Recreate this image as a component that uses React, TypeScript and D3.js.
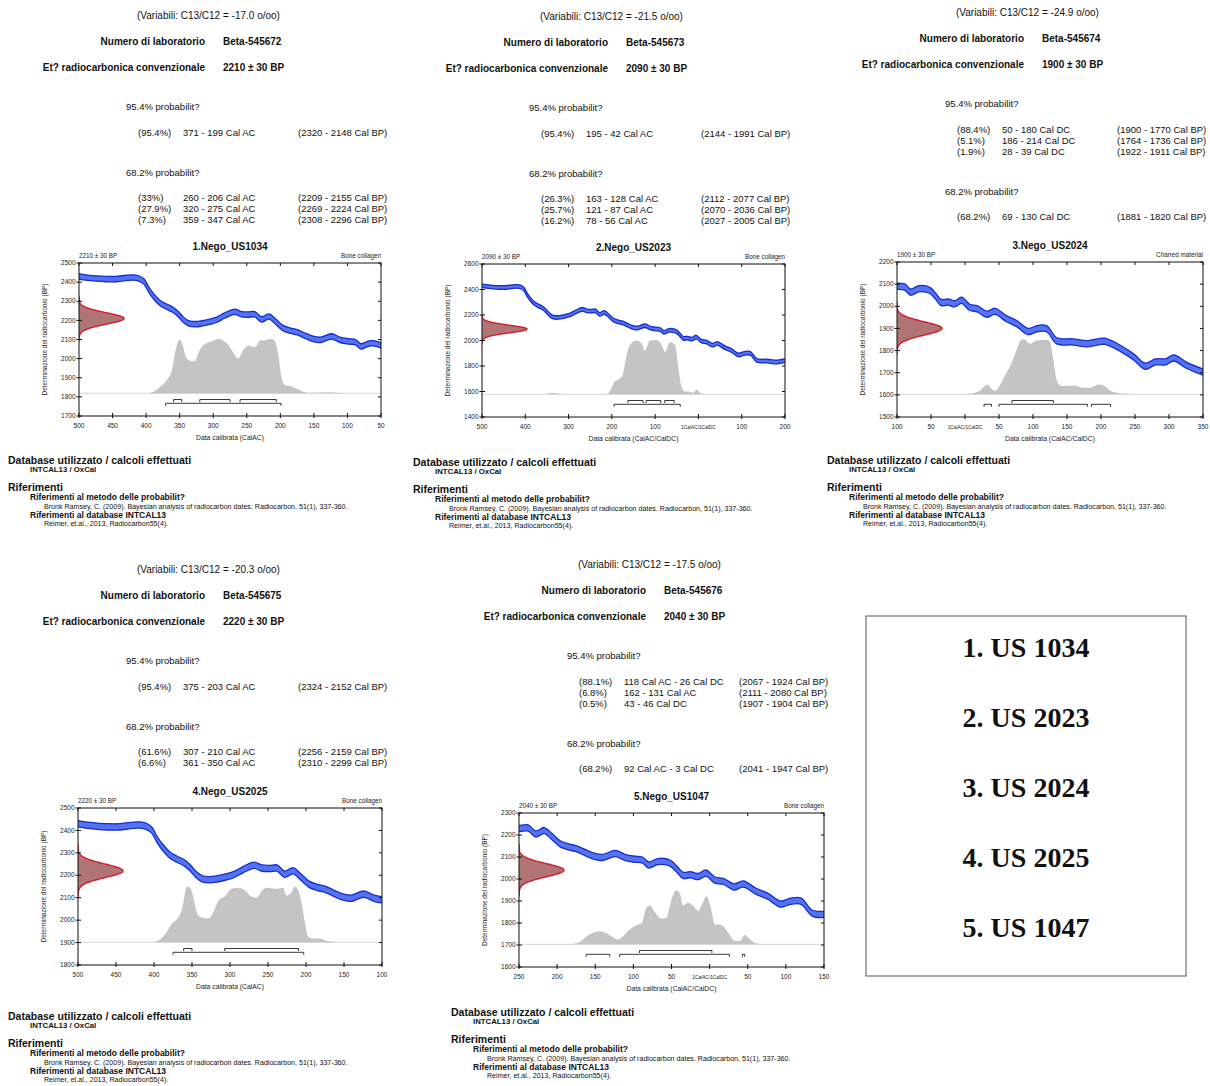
import React from "react";
import * as d3 from "d3";

// ---------- INTCAL13 calibration curve (calendar year, BC negative) ----------
const calYears = [-500,-490,-475,-460,-445,-430,-418,-410,-403,-396,-388,-379,-370,-360,-352,-345,-337,-327,-317,-305,-295,-283,-268,-258,-248,-238,-228,-217,-206,-196,-185,-175,-162,-150,-140,-124,-110,-98,-88,-80,-68,-57,-50,-43,-35,-25,-15,-5,7,18,32,44,61,76,93,106,120,135,159,179,195,206,229,248,265,280,295,307,326,350];
const calBP = [2430,2424,2419,2416,2416,2422,2424,2418,2402,2360,2322,2290,2272,2255,2232,2205,2185,2180,2184,2193,2203,2225,2245,2232,2230,2232,2205,2220,2190,2160,2146,2138,2118,2102,2098,2116,2097,2090,2086,2064,2079,2078,2068,2045,2017,2019,2011,2027,1995,1989,1964,1977,1944,1922,1886,1899,1899,1844,1839,1831,1839,1842,1809,1771,1729,1749,1749,1767,1733,1703];
const CAL_SIGMA = 14;
const MEAS_SIGMA = 30;

// ---------- Sample 1 ----------
const p1Variabili = "(Variabili: C13/C12 = -17.0 o/oo)";
const p1Lab = "Beta-545672";
const p1AgeBP = 2210;
const p1Rows95 = [["(95.4%)", "371 - 199 Cal AC", "(2320 - 2148 Cal BP)"]];
const p1Rows68 = [["(33%)", "260 - 206 Cal AC", "(2209 - 2155 Cal BP)"], ["(27.9%)", "320 - 275 Cal AC", "(2269 - 2224 Cal BP)"], ["(7.3%)", "359 - 347 Cal AC", "(2308 - 2296 Cal BP)"]];
const p1DistYears = [-399,-389,-379,-369,-362,-357,-352,-349,-345,-340,-332,-327,-320,-312,-302,-292,-285,-275,-268,-263,-255,-248,-240,-235,-230,-225,-220,-213,-208,-203,-198,-193,-186,-176,-166,-156,-126,-111,-96];
const p1DistProb = [0,0.03,0.12,0.25,0.40,0.74,0.96,0.98,0.86,0.65,0.59,0.60,0.80,0.91,0.96,1.0,0.97,0.85,0.71,0.64,0.80,0.88,0.85,0.88,0.98,0.97,0.99,1.0,0.96,0.71,0.28,0.15,0.14,0.09,0.03,0.01,0.02,0.005,0];
const p1Range68 = [[-359, -347], [-320, -275], [-260, -206]];
const p1Range95 = [[-371, -199]];

// ---------- Sample 2 ----------
const p2Variabili = "(Variabili: C13/C12 = -21.5 o/oo)";
const p2Lab = "Beta-545673";
const p2AgeBP = 2090;
const p2Rows95 = [["(95.4%)", "195 - 42 Cal AC", "(2144 - 1991 Cal BP)"]];
const p2Rows68 = [["(26.3%)", "163 - 128 Cal AC", "(2112 - 2077 Cal BP)"], ["(25.7%)", "121 - 87 Cal AC", "(2070 - 2036 Cal BP)"], ["(16.2%)", "78 - 56 Cal AC", "(2027 - 2005 Cal BP)"]];
const p2DistYears = [-351,-336,-320,-305,-212,-205,-193,-185,-175,-166,-158,-143,-131,-124,-112,-97,-85,-77,-66,-54,-47,-39,-31,-24,-12,-4,3,19];
const p2DistProb = [0,0.03,0.01,0,0,0.05,0.24,0.27,0.36,0.71,0.91,0.99,0.93,0.80,0.99,1.0,0.91,0.78,0.96,0.91,0.52,0.14,0.05,0.05,0.03,0.09,0.03,0];
const p2Range68 = [[-163, -128], [-121, -87], [-78, -56]];
const p2Range95 = [[-195, -42]];

// ---------- Sample 3 ----------
const p3Variabili = "(Variabili: C13/C12 = -24.9 o/oo)";
const p3Lab = "Beta-545674";
const p3AgeBP = 1900;
const p3Rows95 = [["(88.4%)", "50 - 180 Cal DC", "(1900 - 1770 Cal BP)"], ["(5.1%)", "186 - 214 Cal DC", "(1764 - 1736 Cal BP)"], ["(1.9%)", "28 - 39 Cal DC", "(1922 - 1911 Cal BP)"]];
const p3Rows68 = [["(68.2%)", "69 - 130 Cal DC", "(1881 - 1820 Cal BP)"]];
const p3DistYears = [-8,12,22,33,39,44,51,59,66,73,83,86,96,105,120,125,130,135,142,159,174,184,196,204,213,223,238,248];
const p3DistProb = [0,0.02,0.07,0.18,0.10,0.06,0.16,0.35,0.50,0.71,0.99,1.0,0.92,0.98,0.99,0.95,0.62,0.25,0.15,0.16,0.12,0.12,0.18,0.16,0.07,0.03,0.01,0];
const p3Range68 = [[69, 130]];
const p3Range95 = [[28, 39], [50, 180], [186, 214]];

// ---------- Sample 4 ----------
const p4Variabili = "(Variabili: C13/C12 = -20.3 o/oo)";
const p4Lab = "Beta-545675";
const p4AgeBP = 2220;
const p4Rows95 = [["(95.4%)", "375 - 203 Cal AC", "(2324 - 2152 Cal BP)"]];
const p4Rows68 = [["(61.6%)", "307 - 210 Cal AC", "(2256 - 2159 Cal BP)"], ["(6.6%)", "361 - 350 Cal AC", "(2310 - 2299 Cal BP)"]];
const p4DistYears = [-401,-392,-383,-377,-370,-363,-357,-355,-350,-346,-342,-335,-328,-322,-315,-307,-298,-289,-280,-272,-265,-258,-252,-239,-230,-226,-219,-215,-210,-206,-202,-197,-191,-182,-173,-164,-156];
const p4DistProb = [0,0.05,0.19,0.33,0.41,0.60,0.99,1.0,0.90,0.66,0.49,0.44,0.43,0.54,0.75,0.82,0.96,0.98,0.93,0.82,0.80,0.93,0.98,0.96,0.98,0.84,0.90,1.0,0.93,0.72,0.40,0.10,0.07,0.07,0.03,0.01,0];
const p4Range68 = [[-361, -350], [-307, -210]];
const p4Range95 = [[-375, -203]];

// ---------- Sample 5 ----------
const p5Variabili = "(Variabili: C13/C12 = -17.5 o/oo)";
const p5Lab = "Beta-545676";
const p5AgeBP = 2040;
const p5Rows95 = [["(88.1%)", "118 Cal AC - 26 Cal DC", "(2067 - 1924 Cal BP)"], ["(6.8%)", "162 - 131 Cal AC", "(2111 - 2080 Cal BP)"], ["(0.5%)", "43 - 46 Cal DC", "(1907 - 1904 Cal BP)"]];
const p5Rows68 = [["(68.2%)", "92 Cal AC - 3 Cal DC", "(2041 - 1947 Cal BP)"]];
const p5DistYears = [-183,-170,-161,-153,-144,-135,-126,-120,-113,-105,-96,-89,-83,-78,-72,-63,-57,-50,-44,-39,-35,-28,-22,-15,-9,-4,1,7,13,20,26,33,40,46,53,61,70];
const p5DistProb = [0,0.04,0.15,0.21,0.24,0.20,0.12,0.09,0.15,0.27,0.35,0.39,0.67,0.71,0.59,0.47,0.48,0.82,0.99,0.93,0.71,0.76,0.71,0.61,0.76,0.88,0.70,0.36,0.36,0.30,0.18,0.06,0.06,0.17,0.09,0.02,0];
const p5Range68 = [[-92, 3]];
const p5Range95 = [[-162, -131], [-118, 26], [43, 46]];

// ---------- Chart labels ----------
const chartTitles = ["1.Nego_US1034", "2.Nego_US2023", "3.Nego_US2024", "4.Nego_US2025", "5.Nego_US1047"];
const materials = ["Bone collagen", "Bone collagen", "Charred material", "Bone collagen", "Bone collagen"];
const xAxisTitles = ["Data calibrata (CalAC)", "Data calibrata (CalAC/CalDC)", "Data calibrata (CalAC/CalDC)", "Data calibrata (CalAC)", "Data calibrata (CalAC/CalDC)"];
const xDomains = [[-500, -50], [-500, 200], [-100, 350], [-500, -100], [-250, 150]];
const xTickSteps = [50, 100, 50, 50, 50];
const yDomains = [[1700, 2500], [1400, 2600], [1500, 2200], [1800, 2500], [1600, 2300]];
const yTickSteps = [100, 200, 100, 100, 100];
const legendItems = ["1. US 1034", "2. US 2023", "3. US 2024", "4. US 2025", "5. US 1047"];

// ---------- Layout (positions only) ----------
const layout = [
  { col0: 126, dy: 0, box: [79, 263, 381, 416], foot: [8, 464] },
  { col0: 529, dy: 1, box: [482, 264, 785, 417], foot: [413, 466] },
  { col0: 945, dy: -3, box: [897, 262, 1203, 417], foot: [827, 464] },
  { col0: 126, dy: 554, box: [78, 808, 382, 965], foot: [8, 1020] },
  { col0: 567, dy: 549, box: [519, 813, 824, 967], foot: [451, 1016] },
];

const samples = [
  { variabili: p1Variabili, lab: p1Lab, age: p1AgeBP, rows95: p1Rows95, rows68: p1Rows68, dy: p1DistYears, dp: p1DistProb, r68: p1Range68, r95: p1Range95 },
  { variabili: p2Variabili, lab: p2Lab, age: p2AgeBP, rows95: p2Rows95, rows68: p2Rows68, dy: p2DistYears, dp: p2DistProb, r68: p2Range68, r95: p2Range95 },
  { variabili: p3Variabili, lab: p3Lab, age: p3AgeBP, rows95: p3Rows95, rows68: p3Rows68, dy: p3DistYears, dp: p3DistProb, r68: p3Range68, r95: p3Range95 },
  { variabili: p4Variabili, lab: p4Lab, age: p4AgeBP, rows95: p4Rows95, rows68: p4Rows68, dy: p4DistYears, dp: p4DistProb, r68: p4Range68, r95: p4Range95 },
  { variabili: p5Variabili, lab: p5Lab, age: p5AgeBP, rows95: p5Rows95, rows68: p5Rows68, dy: p5DistYears, dp: p5DistProb, r68: p5Range68, r95: p5Range95 },
];

const SANS = "'Liberation Sans', Arial, sans-serif";
const SERIF = "'Liberation Serif', 'Times New Roman', serif";

function yearLabel(v: number) {
  if (v === 0) return "1CalAC/1CalDC";
  return String(Math.abs(v));
}

function TextBlock({ s, L }: any) {
  const c = L.col0;
  const d = L.dy;
  const ageStr = `${s.age} \u00b1 ${MEAS_SIGMA} BP`;
  const h68 = 135.5 + d + 11 * (s.rows95.length - 1) + 40.5;
  const fs = 9.5;
  return (
    <g fill="#111" fontFamily={SANS}>
      <text x={c + 11} y={19 + d} fontSize={10}>{s.variabili}</text>
      <text x={c + 79} y={45 + d} fontSize={10} fontWeight="bold" textAnchor="end">Numero di laboratorio</text>
      <text x={c + 97} y={45 + d} fontSize={10} fontWeight="bold">{s.lab}</text>
      <text x={c + 79} y={71 + d} fontSize={10} fontWeight="bold" textAnchor="end">Et? radiocarbonica convenzionale</text>
      <text x={c + 97} y={71 + d} fontSize={10} fontWeight="bold">{ageStr}</text>
      <text x={c} y={110 + d} fontSize={fs}>95.4% probabilit?</text>
      {s.rows95.map((r: string[], j: number) => (
        <g key={"a" + j}>
          <text x={c + 12} y={135.5 + d + 11 * j} fontSize={fs}>{r[0]}</text>
          <text x={c + 57} y={135.5 + d + 11 * j} fontSize={fs}>{r[1]}</text>
          <text x={c + 172} y={135.5 + d + 11 * j} fontSize={fs}>{r[2]}</text>
        </g>
      ))}
      <text x={c} y={h68} fontSize={fs}>68.2% probabilit?</text>
      {s.rows68.map((r: string[], j: number) => (
        <g key={"b" + j}>
          <text x={c + 12} y={h68 + 25 + 11 * j} fontSize={fs}>{r[0]}</text>
          <text x={c + 57} y={h68 + 25 + 11 * j} fontSize={fs}>{r[1]}</text>
          <text x={c + 172} y={h68 + 25 + 11 * j} fontSize={fs}>{r[2]}</text>
        </g>
      ))}
    </g>
  );
}

function Chart({ s, L, i }: any) {
  const [left, top, right, bottom] = L.box;
  const xd = xDomains[i];
  const yd = yDomains[i];
  const x = d3.scaleLinear().domain(xd).range([left, right]);
  const y = d3.scaleLinear().domain(yd).range([bottom, top]);
  const base = bottom - 22.7;
  const ph = d3.scaleLinear().domain([0, 1]).range([base, base - (bottom - top) * 0.355]);

  const cal = calYears.map((yr, k) => ({ yr, bp: calBP[k] })).filter((d) => d.yr >= xd[0] - 40 && d.yr <= xd[1] + 40);
  const band = d3.area<any>().x((d) => x(d.yr)).y0((d) => y(d.bp - CAL_SIGMA)).y1((d) => y(d.bp + CAL_SIGMA)).curve(d3.curveCatmullRom);
  const upper = d3.line<any>().x((d) => x(d.yr)).y((d) => y(d.bp + CAL_SIGMA)).curve(d3.curveCatmullRom);
  const lower = d3.line<any>().x((d) => x(d.yr)).y((d) => y(d.bp - CAL_SIGMA)).curve(d3.curveCatmullRom);

  const n = Math.min(s.dy.length, s.dp.length);
  const dist = d3.range(n).map((k) => ({ yr: s.dy[k], p: s.dp[k] }));
  const distArea = d3.area<any>().x((d) => x(d.yr)).y0(base).y1((d) => ph(d.p)).curve(d3.curveMonotoneX);

  const gw = d3.scaleLinear().domain([0, 1]).range([left, left + 45]);
  const gpts = d3.range(s.age - 4 * MEAS_SIGMA, s.age + 4 * MEAS_SIGMA + 0.1, 1).map((bp) => ({ bp, v: Math.exp(-0.5 * ((bp - s.age) / MEAS_SIGMA) ** 2) }));
  const gArea = d3.area<any>().y((d) => y(d.bp)).x0(left).x1((d) => gw(d.v));
  const gLine = d3.line<any>().y((d) => y(d.bp)).x((d) => gw(d.v));

  const xt = d3.range(xd[0], xd[1] + 0.1, xTickSteps[i]);
  const yt = d3.range(yd[0], yd[1] + 0.1, yTickSteps[i]);
  const clipId = "clip" + i;
  const y68 = bottom - 16.5;
  const y95 = bottom - 12.7;

  const bar = (r: number[], yy: number, k: string) => (
    <g key={k} stroke="#222" strokeWidth={0.9}>
      <line x1={x(r[0])} x2={x(r[1])} y1={yy} y2={yy} />
      <line x1={x(r[0])} x2={x(r[0])} y1={yy} y2={yy + 2.5} />
      <line x1={x(r[1])} x2={x(r[1])} y1={yy} y2={yy + 2.5} />
    </g>
  );

  return (
    <g fontFamily={SANS}>
      <defs>
        <clipPath id={clipId}>
          <rect x={left} y={top} width={right - left} height={bottom - top} />
        </clipPath>
      </defs>
      <text x={(left + right) / 2} y={top - 13} fontSize={10} fontWeight="bold" textAnchor="middle" fill="#111">{chartTitles[i]}</text>
      <text x={left} y={top - 5} fontSize={6.3} fill="#222">{`${s.age} \u00b1 ${MEAS_SIGMA} BP`}</text>
      <text x={right} y={top - 5} fontSize={6.3} fill="#222" textAnchor="end">{materials[i]}</text>
      <g clipPath={`url(#${clipId})`}>
        <line x1={left} x2={right} y1={base} y2={base} stroke="#d8d8d8" strokeWidth={1} />
        <path d={distArea(dist) || ""} fill="#c4c4c4" />
        <path d={band(cal) || ""} fill="#5274f2" />
        <path d={upper(cal) || ""} fill="none" stroke="#1a2ccc" strokeWidth={1.3} />
        <path d={lower(cal) || ""} fill="none" stroke="#1a2ccc" strokeWidth={1.3} />
        <path d={gArea(gpts) || ""} fill="#b07474" />
        <path d={gLine(gpts) || ""} fill="none" stroke="#d41c2c" strokeWidth={1.4} />
      </g>
      {s.r68.map((r: number[], k: number) => bar(r, y68, "r68" + k))}
      {s.r95.map((r: number[], k: number) => bar(r, y95, "r95" + k))}
      <rect x={left} y={top} width={right - left} height={bottom - top} fill="none" stroke="#111" strokeWidth={1} />
      {xt.map((v) => (
        <g key={"x" + v}>
          <line x1={x(v)} x2={x(v)} y1={bottom - 3} y2={bottom + 2} stroke="#111" />
          <line x1={x(v)} x2={x(v)} y1={top} y2={top + 3} stroke="#111" />
          <text x={x(v)} y={bottom + 11.5} fontSize={v === 0 ? 4.8 : 6.5} textAnchor="middle" fill="#222">{yearLabel(v)}</text>
        </g>
      ))}
      {yt.map((v) => (
        <g key={"y" + v}>
          <line x1={left - 2.5} x2={left + 3} y1={y(v)} y2={y(v)} stroke="#111" />
          <line x1={right - 3} x2={right} y1={y(v)} y2={y(v)} stroke="#111" />
          <text x={left - 3.5} y={y(v) + 2.2} fontSize={6.5} textAnchor="end" fill="#222">{v}</text>
        </g>
      ))}
      <text x={(left + right) / 2} y={bottom + 23.5} fontSize={6.8} textAnchor="middle" fill="#222">{xAxisTitles[i]}</text>
      <text transform={`translate(${left - 32},${(top + bottom) / 2}) rotate(-90)`} fontSize={6.5} textAnchor="middle" fill="#222">Determinazione del radiocarbonio (BP)</text>
    </g>
  );
}

function Footer({ L }: any) {
  const [x0, y0] = L.foot;
  return (
    <g fontFamily={SANS} fill="#111">
      <text x={x0} y={y0} fontSize={10.5} fontWeight="bold">Database utilizzato / calcoli effettuati</text>
      <text x={x0 + 22} y={y0 + 8} fontSize={7.8} fontWeight="bold">INTCAL13 / OxCal</text>
      <text x={x0} y={y0 + 27} fontSize={10.5} fontWeight="bold">Riferimenti</text>
      <text x={x0 + 22} y={y0 + 36} fontSize={8.5} fontWeight="bold">Riferimenti al metodo delle probabilit?</text>
      <text x={x0 + 36} y={y0 + 44.5} fontSize={7.1}>Bronk Ramsey, C. (2009). Bayesian analysis of radiocarbon dates. Radiocarbon, 51(1), 337-360.</text>
      <text x={x0 + 22} y={y0 + 54} fontSize={8.5} fontWeight="bold">Riferimenti al database INTCAL13</text>
      <text x={x0 + 36} y={y0 + 61.5} fontSize={7.1}>Reimer, et.al., 2013, Radiocarbon55(4).</text>
    </g>
  );
}

function Legend() {
  return (
    <g>
      <rect x={866} y={616} width={320} height={360} fill="#fff" stroke="#555" strokeWidth={1} />
      {legendItems.map((t, k) => (
        <text key={t} x={1026} y={656.5 + 70 * k} fontSize={28} fontWeight="bold" fontFamily={SERIF} textAnchor="middle" fill="#111">{t}</text>
      ))}
    </g>
  );
}

export default function App() {
  return (
    <svg width={1210} height={1086} style={{ position: "absolute", left: 0, top: 0, background: "#fff" }}>
      <rect width={1210} height={1086} fill="#fff" />
      {samples.map((s, i) => (
        <g key={i}>
          <TextBlock s={s} L={layout[i]} />
          <Chart s={s} L={layout[i]} i={i} />
          <Footer L={layout[i]} />
        </g>
      ))}
      <Legend />
    </svg>
  );
}
